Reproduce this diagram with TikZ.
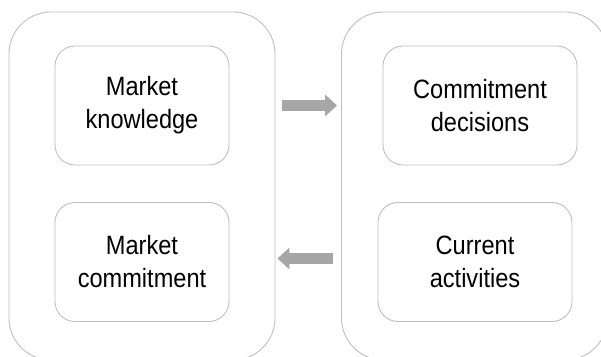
\documentclass[tikz,border=0pt]{standalone}
\usepackage{fontspec}
\setmainfont[FakeStretch=0.89]{Liberation Sans}
\usetikzlibrary{arrows.meta}

\begin{document}
\begin{tikzpicture}[
				x=1pt,
				y=1pt,
				line join=round,
				outer/.style={draw=black!25, line width=0.9pt, rounded corners=42pt,
					minimum width=266pt, minimum height=348pt, inner sep=0pt},
				inner/.style={draw=black!25, line width=0.9pt, rounded corners=20pt,
					minimum height=119pt, inner sep=0pt, align=center,
					font=\fontsize{26.5pt}{33pt}\selectfont, text=black},
				flow/.style={draw=black!35, line width=11pt,
					-{Triangle[length=12pt,width=21pt]}}
			]

			\useasboundingbox (0,0) rectangle (601,356);
			\clip (0,0) rectangle (601,356);

			% Outer boxes
			\node[outer] (lout) at (142,170) {};
			\node[outer] (rout) at (474.5,170) {};

			% Inner boxes
			\node[inner, minimum width=174pt] (kno) at (142,250.5) {Market\\knowledge};
			\node[inner, minimum width=174pt] (com) at (142,94) {Market\\commitment};
			\node[inner, minimum width=194pt] (dec) at (480,250.5) {Commitment\\decisions};
			\node[inner, minimum width=194pt] (act) at (475,94) {Current\\activities};

			% Arrows between the two sides
			\draw[flow, shorten <=7pt, shorten >=4pt] (lout.east |- kno) -- (rout.west |- kno);
			\draw[flow, shorten <=8pt, shorten >=2pt] (rout.west |- 0,97.5) -- (lout.east |- 0,97.5);

		\end{tikzpicture}
\end{document}
